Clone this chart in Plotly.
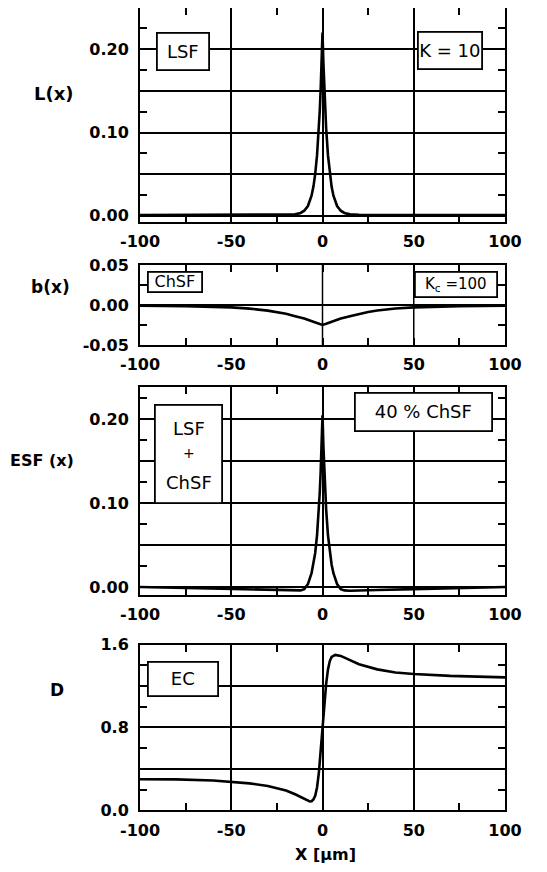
import plotly.graph_objects as go

# page body has an 8px margin: figure is sized so that it fills the 547x872 window
OFF = 8
W, H = 547 - 2 * OFF, 872 - 2 * OFF

# ---------------- data ----------------
lsf_x = [-100, -50, -30, -20, -15, -12, -10, -8, -6, -5, -4, -3, -2, -1.5, -1, -0.5, 0,
         0.5, 1, 1.5, 2, 3, 4, 5, 6, 8, 10, 12, 15, 20, 30, 50, 100]
lsf_y = [0.001, 0.001, 0.001, 0.0012, 0.0018, 0.0035, 0.0062, 0.0118, 0.0242, 0.0348, 0.050, 0.0725,
         0.105, 0.126, 0.152, 0.183, 0.220,
         0.183, 0.152, 0.126, 0.105, 0.0725, 0.050, 0.0348, 0.0242, 0.0118, 0.0062, 0.0035, 0.0018,
         0.0012, 0.001, 0.001, 0.001]

chsf_x = [-100, -75, -50, -40, -30, -25, -20, -15, -10, -5, -2, 0,
          2, 5, 10, 15, 20, 25, 30, 40, 50, 75, 100]
chsf_y = [-0.001, -0.0015, -0.003, -0.0045, -0.007, -0.009, -0.011, -0.014, -0.017, -0.021, -0.0235, -0.025,
          -0.0235, -0.021, -0.017, -0.014, -0.011, -0.0088, -0.0068, -0.0043, -0.003, -0.0015, -0.001]

esf_x = [-100, -70, -50, -30, -20, -15, -12, -10, -8, -6, -5, -4, -3, -2, -1.5, -1, -0.5, 0,
         0.5, 1, 1.5, 2, 3, 4, 5, 6, 8, 10, 12, 15, 20, 30, 50, 70, 100]
esf_y = [0.0005, -0.001, -0.002, -0.003, -0.0035, -0.004, -0.0035, -0.002, 0.004, 0.017, 0.027, 0.041,
         0.062, 0.093, 0.113, 0.138, 0.168, 0.205,
         0.168, 0.138, 0.113, 0.093, 0.062, 0.041, 0.027, 0.017, 0.004, -0.002, -0.0035, -0.004,
         -0.0035, -0.003, -0.002, -0.001, 0.0005]

ec_x = [-100, -80, -60, -50, -40, -30, -20, -15, -10, -8, -7, -6, -5, -4, -3, -2, -1, 0,
        1, 2, 3, 4, 5, 7, 10, 15, 20, 30, 40, 50, 70, 100]
ec_y = [0.300, 0.298, 0.287, 0.277, 0.260, 0.235, 0.190, 0.155, 0.115, 0.092, 0.085, 0.088, 0.105,
        0.14, 0.22, 0.36, 0.57, 0.80,
        1.03, 1.22, 1.36, 1.44, 1.48, 1.50, 1.49, 1.45, 1.41, 1.36, 1.33, 1.315, 1.297, 1.283]

x_ticks = [-100, -50, 0, 50, 100]
x_ticktext = ["-100", "-50", "0", "50", "100"]
x_minor = [-75, -25, 25, 75]

lsf_yticks = [0, 0.05, 0.10, 0.15, 0.20]
lsf_ytext = ["0.00", " ", "0.10", " ", "0.20"]
lsf_yminor = [0.025, 0.075, 0.125, 0.175, 0.225]

chsf_yticks = [-0.05, 0, 0.05]
chsf_ytext = ["-0.05", "0.00", "0.05"]
chsf_yminor = [-0.025, 0.025]

ec_yticks = [0, 0.4, 0.8, 1.2, 1.6]
ec_ytext = ["0.0", " ", "0.8", " ", "1.6"]
ec_yminor = [0.2, 0.6, 1.0, 1.4]

# ---------------- layout helpers ----------------
FONT = "DejaVu Sans"
plot_l, plot_r = 140, 505          # window pixels
panels = [                          # (top px, bottom px) in window pixels
    (8.3, 221.7),
    (265, 345),
    (386.7, 595),
    (644.5, 810.3),
]


def px(xp):
    return (xp - OFF) / W


def py(yp):
    return 1 - (yp - OFF) / H


def ydom(top, bot):
    return [py(bot), py(top)]


xdom = [px(plot_l), px(plot_r)]

fig = go.Figure()
line = dict(color="black", width=2.6)
fig.add_trace(go.Scatter(x=lsf_x, y=lsf_y, mode="lines", line=line, xaxis="x", yaxis="y"))
fig.add_trace(go.Scatter(x=chsf_x, y=chsf_y, mode="lines", line=line, xaxis="x2", yaxis="y2"))
fig.add_trace(go.Scatter(x=esf_x, y=esf_y, mode="lines", line=line, xaxis="x3", yaxis="y3"))
fig.add_trace(go.Scatter(x=ec_x, y=ec_y, mode="lines", line=line, xaxis="x4", yaxis="y4"))

tickfont = dict(family=FONT, size=16, color="black", weight="bold")


def xaxis(anchor, grid=True):
    return dict(
        domain=xdom, anchor=anchor, range=[-100, 100], tickmode="array", tickvals=x_ticks,
        ticktext=x_ticktext,
        showgrid=grid, gridcolor="black", gridwidth=1.5, zeroline=False,
        showline=True, linecolor="black", linewidth=2, mirror="allticks",
        ticks="inside", ticklen=7, tickwidth=1.5, tickcolor="black",
        minor=dict(tickmode="array", tickvals=x_minor, ticks="inside", ticklen=7,
                   tickwidth=1.5, tickcolor="black", showgrid=False),
        tickfont=tickfont, ticklabelstandoff=4, automargin=False, fixedrange=True,
    )


def yaxis(anchor, dom, rng, tv, tt, mv):
    return dict(
        domain=dom, anchor=anchor, range=rng, tickmode="array", tickvals=tv, ticktext=tt,
        showgrid=True, gridcolor="black", gridwidth=1.5, zeroline=False,
        showline=True, linecolor="black", linewidth=2, mirror="allticks",
        ticks="inside", ticklen=7, tickwidth=1.5, tickcolor="black",
        minor=dict(tickmode="array", tickvals=mv, ticks="inside", ticklen=7,
                   tickwidth=1.5, tickcolor="black", showgrid=False),
        tickfont=tickfont, ticklabelstandoff=6, automargin=False, fixedrange=True,
    )


fig.update_layout(
    width=W, height=H, margin=dict(l=0, r=0, t=0, b=0),
    paper_bgcolor="white", plot_bgcolor="white", showlegend=False,
    xaxis=xaxis("y"),
    xaxis2=xaxis("y2", grid=False),
    xaxis3=xaxis("y3"),
    xaxis4=xaxis("y4"),
    yaxis=yaxis("x", ydom(*panels[0]), [-0.007, 0.249], lsf_yticks, lsf_ytext, lsf_yminor),
    yaxis2=yaxis("x2", ydom(*panels[1]), [-0.05, 0.05], chsf_yticks, chsf_ytext, chsf_yminor),
    yaxis3=yaxis("x3", ydom(*panels[2]), [-0.009, 0.239], lsf_yticks, lsf_ytext, lsf_yminor),
    yaxis4=yaxis("x4", ydom(*panels[3]), [0, 1.6], ec_yticks, ec_ytext, ec_yminor),
)

# partial vertical grid lines in the b(x) panel
for gx in [0, 50]:
    fig.add_shape(type="line", xref="x2", yref="y2 domain", x0=gx, x1=gx, y0=0, y1=1,
                  line=dict(color="black", width=1.5), layer="below")


def box(cx, cy, w, h, text, size=18):
    fig.add_annotation(xref="paper", yref="paper", x=px(cx), y=py(cy), xanchor="center",
                       yanchor="middle", text=text, showarrow=False, width=w - 2, height=h - 2,
                       bordercolor="black", borderwidth=1.8, borderpad=0, bgcolor="white",
                       font=dict(family=FONT, size=size, color="black"), align="center",
                       valign="middle")


def label(cx, cy, text, size=17, bold=True):
    t = f"<b>{text}</b>" if bold else text
    fig.add_annotation(xref="paper", yref="paper", x=px(cx), y=py(cy), xanchor="center",
                       yanchor="middle", text=t, showarrow=False,
                       font=dict(family=FONT, size=size, color="black"))


box(183, 51.5, 52, 37, "LSF")
box(450, 50.5, 64, 37, "K = 10")
box(175, 282.5, 54, 20, "ChSF", 16)
box(456, 284.5, 82, 25, "K<sub>c</sub> =100", 15)
box(188.5, 454, 67, 98, " ")
label(188.5, 428, "LSF", 18, bold=False)
label(188.5, 453, "+", 14, bold=False)
label(188.5, 482, "ChSF", 18, bold=False)
box(423.5, 412, 137, 38, "40 % ChSF")
box(183, 679, 70, 34, "EC")

label(54, 93, "L(x)", 18)
label(50, 287, "b(x)", 17)
label(42, 461, "ESF (x)", 16)
label(57, 690, "D", 17)
label(325, 854, "X [µm]", 16)

fig.write_html("out.html")
